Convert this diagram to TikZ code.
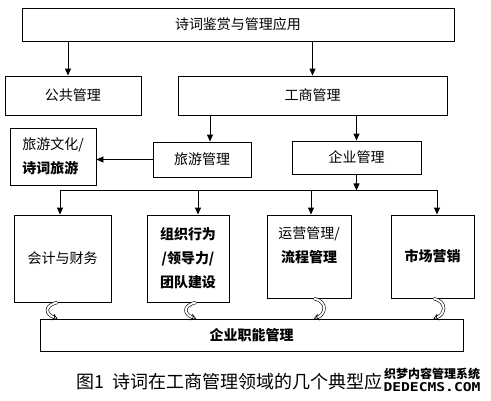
\documentclass[tikz,border=0pt]{standalone}
\usepackage{fontspec}
\usepackage{graphicx}
\setmainfont{Noto Sans CJK SC}
\newfontfamily\markfont{DejaVu Sans Mono}
\usetikzlibrary{arrows.meta}

\begin{document}
\begin{tikzpicture}[x=1pt,y=1pt,
box/.style={draw=black, line width=0.9pt, fill=white, inner sep=0pt, align=center, font=\fontsize{14pt}{24pt}\selectfont},
arr/.style={line width=0.9pt, -{Triangle[length=7pt,width=6pt]}},
curl/.style={line width=0.6pt, double=white, double distance=2pt, -{Stealth[length=5pt,width=7pt,open]}}
]
\useasboundingbox (0,0) rectangle (491,-400);

% top level
\node[box, minimum width=432pt, minimum height=33pt](app) at (238,-24.5){诗词鉴赏与管理应用};
\node[box, minimum width=136pt, minimum height=39pt](pub) at (73,-95.5){公共管理};
\node[box, minimum width=269pt, minimum height=39pt](biz) at (312.5,-95.5){工商管理};

% second level
\node[box, minimum width=86pt, minimum height=57pt, align=left](cult) at (53,-156.5){旅游文化/\\\textbf{诗词旅游}};
\node[box, minimum width=98pt, minimum height=35pt](tour) at (202,-159.5){旅游管理};
\node[box, minimum width=129pt, minimum height=33pt](ent) at (356.5,-157.5){企业管理};

% functions
\node[box, minimum width=97pt, minimum height=87pt](acc) at (62.5,-258.5){会计与财务};
\node[box, minimum width=82pt, minimum height=87pt](org) at (188,-258.5){\textbf{组织行为}\\\textbf{/领导力/}\\\textbf{团队建设}};
\node[box, minimum width=84pt, minimum height=83pt](ops) at (309,-256.5){运营管理/\\\textbf{流程管理}\\~};
\node[box, minimum width=83pt, minimum height=83pt](mkt) at (432.5,-256.5){\textbf{市场营销}};
\node[box, minimum width=423pt, minimum height=32pt](func) at (251.5,-335){\textbf{企业职能管理}};

\draw[arr] ([xshift=-5pt]pub.north |- app.south) -- ([xshift=-5pt]pub.north);
\draw[arr] (biz.north |- app.south) -- (biz.north);
\draw[arr] ([xshift=8pt]tour.north |- biz.south) -- ([xshift=8pt]tour.north);
\draw[arr] (ent.north |- biz.south) -- (ent.north);
\draw[arr] (tour.west) -- (cult.east |- tour.west);

\coordinate (split) at ([yshift=-16pt]ent.south);
\draw[arr] (ent.south) -- (split);
\draw[line width=0.9pt] ([xshift=-2.5pt]acc.north |- split) -- ([xshift=4.5pt]mkt.north |- split);
\foreach \n/\dx in {acc/-2.5, org/10, ops/2, mkt/4.5}
  \draw[arr] ([xshift=\dx pt]\n.north |- split) -- ([xshift=\dx pt]\n.north);

% curly links to the bottom box
\draw[curl] ([xshift=-5pt]acc.south) .. controls +(-14,-3) and +(-12,4) .. ([xshift=-5pt]acc.south |- func.north);
\draw[curl] ([xshift=8pt]org.south) .. controls +(-14,-3) and +(-12,4) .. ([xshift=8pt]org.south |- func.north);
\draw[curl] ([xshift=5pt]ops.south) .. controls +(14,-3) and +(12,4) .. ([xshift=5pt]ops.south |- func.north);
\draw[curl] ([xshift=1pt]mkt.south) .. controls +(14,-3) and +(12,4) .. ([xshift=1pt]mkt.south |- func.north);

% caption
\node[anchor=west, inner sep=0pt, font=\fontsize{18pt}{18pt}\selectfont](cap) at (76,-382){图1~~诗词在工商管理领域的几个典型应用};
\node[fill=white, inner sep=1pt, align=center, font=\bfseries\fontsize{12pt}{13pt}\selectfont](mark) at (432,-380){织梦内容管理系统\\\resizebox{97pt}{9pt}{\markfont\bfseries DEDECMS.COM}};
\end{tikzpicture}
\end{document}
